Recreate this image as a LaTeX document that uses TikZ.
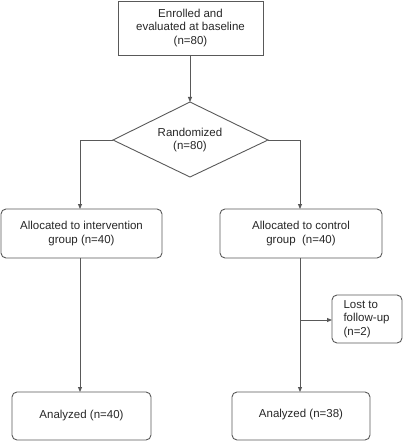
\documentclass[tikz,border=0pt]{standalone}
\usepackage{fontspec}
\setmainfont{Liberation Sans}
\usetikzlibrary{arrows.meta}
\begin{document}
\begin{tikzpicture}[x=1pt,y=-1pt,
  line/.style={draw=black!65,line width=0.9pt},
  arr/.style={line,-{Triangle[length=5pt,width=4pt]}},
  txt/.style={font=\fontsize{11.5}{13.5}\selectfont,text=black!85,align=center},
  rbox/.style={line,rounded corners=5pt}]
\useasboundingbox (0,0) rectangle (403,441);
% top box
\draw[line] (118,1) rectangle (263,55);
\node[txt] (top) at (190.5,28) {Enrolled and\\evaluated at baseline\\(n=80)};
\coordinate (topS) at (190,55);
% diamond
\draw[line] (190,102) -- (268,140) -- (190,177) -- (113,140) -- cycle;
\node[txt] (rand) at (190,140) {Randomized\\(n=80)};
\coordinate (dT) at (190,102);
\coordinate (dL) at (113,140);
\coordinate (dR) at (268,140);
\draw[arr] (topS) -- (dT);
% allocated
\draw[rbox] (1,209) rectangle (162,258);
\node[txt] (allocI) at (81.5,233.5) {Allocated to intervention\\group (n=40)};
\draw[rbox] (220,209) rectangle (382,258);
\node[txt] (allocC) at (301,233.5) {Allocated to control\\group\ \ (n=40)};
\coordinate (aIT) at (80,209);
\coordinate (aCT) at (300,209);
\coordinate (aIB) at (80,258);
\coordinate (aCB) at (300,258);
\draw[arr] (dL) -| (aIT);
\draw[arr] (dR) -| (aCT);
% lost
\draw[rbox] (332,295) rectangle (402,343);
\node[txt,align=left,anchor=west] (lost) at (340,319) {Lost to\\follow-up\\(n=2)};
\coordinate (br) at (300,320);
\coordinate (lostW) at (332,320);
\draw[arr] (br) -- (lostW);
% analyzed
\draw[rbox] (12,392) rectangle (151,440);
\node[txt] (anI) at (81.5,416) {Analyzed (n=40)};
\draw[rbox] (232,392) rectangle (370,440);
\node[txt] (anC) at (301,415) {Analyzed (n=38)};
\coordinate (nIT) at (80,392);
\coordinate (nCT) at (300,392);
\draw[arr] (aIB) -- (nIT);
\draw[arr] (aCB) -- (nCT);
\end{tikzpicture}
\end{document}
